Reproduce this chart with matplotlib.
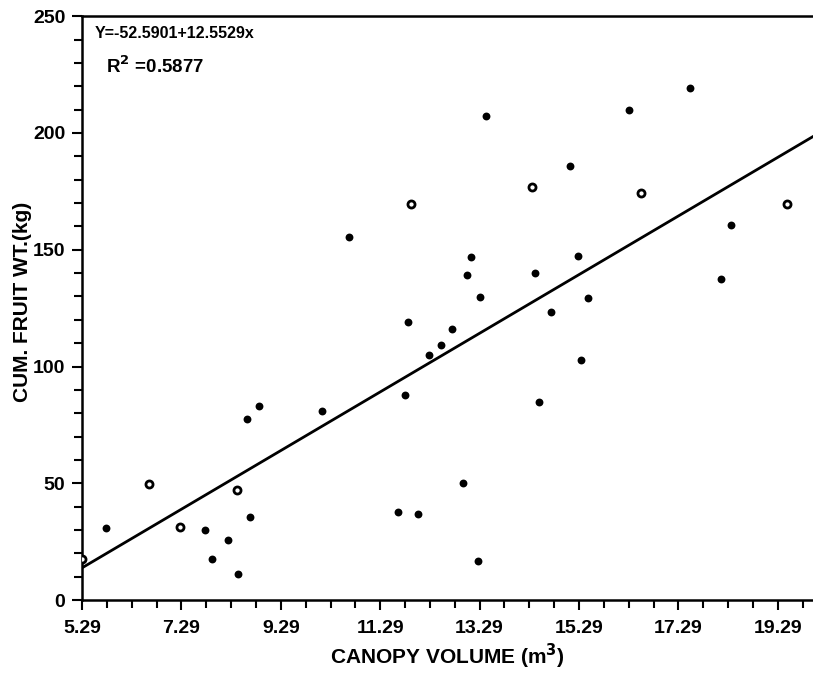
import numpy as np
import matplotlib
matplotlib.use("Agg")
import matplotlib.pyplot as plt
from matplotlib.ticker import MultipleLocator, FixedLocator

# Data
x_filled = [5.78, 7.77, 7.91, 8.23, 8.43, 8.61, 8.66, 8.85, 10.11, 10.66,
            11.65, 11.79, 11.84, 12.06, 12.27, 12.52, 12.74, 12.96, 13.04, 13.11,
            13.25, 13.30, 13.42, 14.40, 14.49, 14.72, 15.10, 15.27, 15.33, 15.48,
            16.30, 17.53, 18.14, 18.35]
y_filled = [30.8, 30.0, 17.7, 25.8, 11.3, 77.4, 35.7, 83.2, 80.9, 155.4,
            37.8, 87.6, 119.1, 36.7, 104.9, 109.3, 116.1, 50.2, 139.4, 147.1,
            16.8, 129.7, 207.1, 140.0, 84.9, 123.4, 185.7, 147.3, 102.9, 129.3,
            209.8, 219.2, 137.4, 160.5]
x_open = [5.28, 6.64, 7.27, 8.41, 11.90, 14.35, 16.54, 19.47]
y_open = [17.4, 49.8, 31.5, 47.2, 169.6, 176.7, 174.5, 169.8]

intercept = -52.5901
slope = 12.5529
r_squared = 0.5877

x_min, x_max = 5.29, 20.0
x_tick_labels = ["5.29", "7.29", "9.29", "11.29", "13.29", "15.29", "17.29", "19.29"]
x_tick_values = [5.29, 7.29, 9.29, 11.29, 13.29, 15.29, 17.29, 19.29]
y_tick_values = [0, 50, 100, 150, 200, 250]

plt.rcParams['font.family'] = ['Liberation Sans', 'DejaVu Sans']

fig = plt.figure(figsize=(8.13, 6.75), dpi=100)
ax = fig.add_axes([0.101, 0.111, 0.899, 0.865])

ax.scatter(x_filled, y_filled, s=32, marker='o', color='black', zorder=3, linewidths=0)
ax.scatter(x_open, y_open, s=26, marker='o', facecolor='white', edgecolor='black',
           linewidths=2.0, zorder=3)

xl = np.array([x_min, x_max])
ax.plot(xl, intercept + slope * xl, color='black', lw=2.0, zorder=2)

ax.set_xlim(x_min, x_max)
ax.set_ylim(0, 250)
ax.xaxis.set_major_locator(FixedLocator(x_tick_values))
ax.set_xticklabels(x_tick_labels)
ax.xaxis.set_minor_locator(MultipleLocator(0.5, offset=0.29))
ax.set_yticks(y_tick_values)
ax.yaxis.set_minor_locator(MultipleLocator(10))

ax.tick_params(axis='both', which='both', direction='out', width=1.5, color='black')
ax.tick_params(axis='both', which='major', length=7, labelsize=14)
ax.tick_params(axis='x', which='major', pad=7)
ax.tick_params(axis='y', which='major', pad=5)
ax.tick_params(axis='both', which='minor', length=6)
for lbl in ax.get_xticklabels() + ax.get_yticklabels():
    lbl.set_fontweight('bold')

for s in ax.spines.values():
    s.set_linewidth(1.8)
ax.spines['right'].set_visible(False)

ax.set_xlabel("CANOPY VOLUME (m$^\\mathbf{3}$)", fontsize=15, fontweight='bold', labelpad=4)
ax.set_ylabel("CUM. FRUIT WT.(kg)", fontsize=15, fontweight='bold')
ax.yaxis.set_label_coords(-0.069, 0.51)

ax.text(0.017, 0.983, "Y=-52.5901+12.5529x", transform=ax.transAxes, fontsize=11.5,
        fontweight='bold', va='top', ha='left')
ax.text(0.033, 0.933, "R$^\\mathbf{2}$ =%.4f" % r_squared, transform=ax.transAxes,
        fontsize=13.5, fontweight='bold', va='top', ha='left')

fig.savefig("out.png", dpi=100)
